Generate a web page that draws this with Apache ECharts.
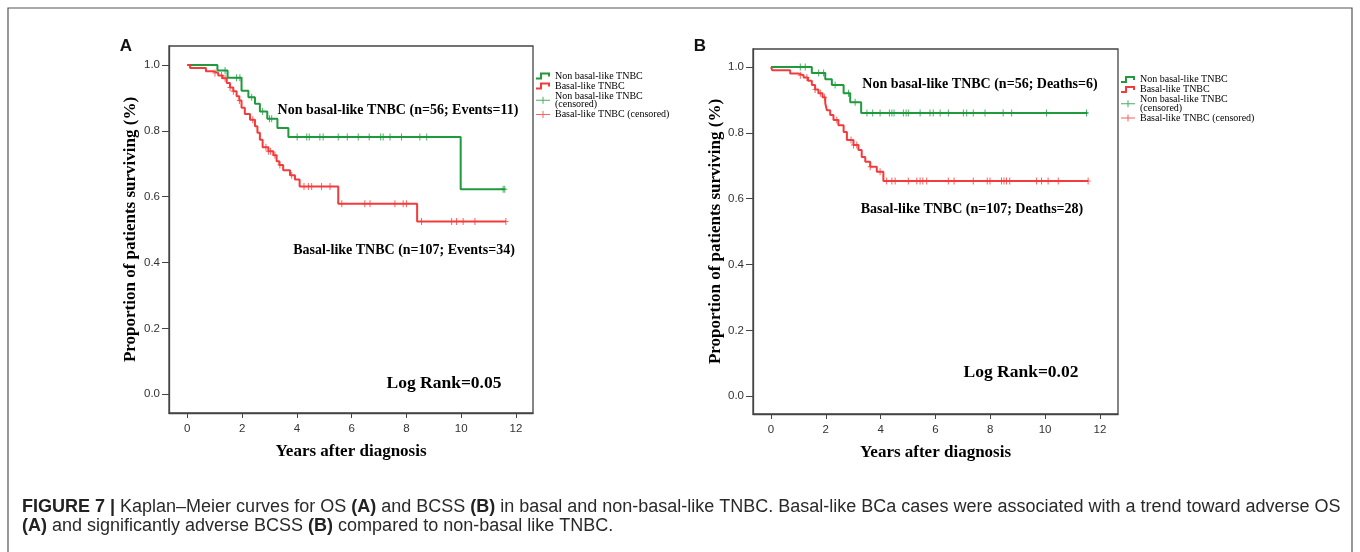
<!DOCTYPE html>
<html>
<head>
<meta charset="utf-8">
<script src="https://cdn.jsdelivr.net/npm/echarts@6/dist/echarts.min.js"></script>
<style>
html, body { margin: 0; padding: 0; background: #fff; }
#main { width: 1360px; height: 552px; }
</style>
</head>
<body>
<div id="main"></div>
<script>
// ---- panel A : overall survival ----
var osNonTime = [0, 1.10, 1.47, 1.98, 2.23, 2.47, 2.65, 2.92, 3.29, 3.69, 9.98, 11.6];
var osNonSurv = [1, 0.983, 0.961, 0.922, 0.902, 0.882, 0.859, 0.837, 0.809, 0.781, 0.623, 0.623];
var osNonCens = [1.38, 1.80, 1.92, 2.35, 2.75, 3.00, 3.08, 4.01, 4.36, 4.45, 4.84, 4.96, 5.51, 5.84, 6.24, 6.64, 7.06, 7.15, 7.40, 7.82, 8.49, 8.74, 11.53, 11.59];

var osBasTime = [0, 0.10, 0.68, 0.95, 1.13, 1.29, 1.44, 1.56, 1.68, 1.80, 1.90, 1.98, 2.10, 2.29, 2.47, 2.56, 2.65, 2.75, 2.96, 3.14, 3.26, 3.36, 3.50, 3.75, 3.93, 4.10, 5.51, 8.39, 11.63];
var osBasSurv = [1, 0.991, 0.981, 0.976, 0.968, 0.960, 0.945, 0.932, 0.920, 0.905, 0.892, 0.870, 0.851, 0.834, 0.814, 0.794, 0.773, 0.750, 0.738, 0.726, 0.708, 0.696, 0.680, 0.665, 0.652, 0.631, 0.579, 0.525, 0.525];
var osBasCens = [1.01, 1.25, 1.38, 1.56, 1.68, 1.90, 2.39, 2.87, 2.96, 3.04, 3.20, 3.38, 3.81, 4.26, 4.42, 4.54, 4.90, 5.21, 5.64, 6.48, 6.67, 7.58, 7.88, 8.00, 8.55, 9.65, 9.83, 10.07, 10.50, 11.63];

// ---- panel B : breast cancer specific survival ----
var bcNonTime = [0, 1.49, 1.98, 2.22, 2.65, 2.89, 3.29, 11.55];
var bcNonSurv = [1, 0.982, 0.963, 0.945, 0.920, 0.893, 0.860, 0.860];
var bcNonCens = [1.07, 1.25, 1.74, 1.92, 2.34, 2.83, 3.07, 3.50, 3.71, 3.98, 4.32, 4.41, 4.49, 4.83, 4.93, 5.01, 5.44, 5.80, 5.92, 6.17, 6.47, 7.02, 7.14, 7.38, 7.81, 8.47, 8.78, 10.05, 11.51];

var bcBasTime = [0, 0.05, 0.70, 1.01, 1.19, 1.35, 1.49, 1.61, 1.73, 1.88, 1.98, 2.04, 2.16, 2.28, 2.46, 2.65, 2.77, 3.01, 3.19, 3.31, 3.44, 3.62, 3.86, 4.10, 11.57];
var bcBasSurv = [1, 0.990, 0.980, 0.975, 0.968, 0.958, 0.945, 0.932, 0.920, 0.908, 0.890, 0.869, 0.854, 0.839, 0.823, 0.803, 0.778, 0.763, 0.748, 0.727, 0.712, 0.697, 0.682, 0.654, 0.654];
var bcBasCens = [1.07, 1.31, 1.61, 1.80, 1.95, 2.40, 2.92, 3.01, 3.13, 3.62, 3.98, 4.22, 4.41, 4.53, 5.01, 5.32, 5.44, 5.54, 5.68, 6.47, 6.68, 7.38, 7.89, 7.99, 8.41, 8.50, 8.59, 8.71, 9.69, 9.87, 10.11, 10.48, 11.57];

var xTicks = [0, 2, 4, 6, 8, 10, 12];
var yTicks = [0, 0.2, 0.4, 0.6, 0.8, 1.0];

var nameNon = 'Non basal-like TNBC';
var nameBas = 'Basal-like TNBC';
var nameNonC = 'Non basal-like TNBC (censored)';
var nameBasC = 'Basal-like TNBC (censored)';

var green = '#1f9a3c';
var red = '#f43b3b';
var serif = '"Liberation Serif", "DejaVu Serif", serif';
var sans = '"Liberation Sans", Arial, sans-serif';

var plusPath = 'path://M2,0H3V7H2ZM0,3H5V4H0Z';
var stepIcon = 'path://M0,5H4V0H14V4H12V2H6V7H0Z';
var censIcon = 'path://M0,3H6.5V0H7.5V3H14V4H7.5V7H6.5V4H0Z';

function zip(ts, ss) {
    return ts.map(function (t, i) { return [t, ss[i]]; });
}
// value of the step curve at time t
function survAt(ts, ss, t) {
    var v = ss[0];
    for (var i = 0; i < ts.length; i++) {
        if (ts[i] <= t) v = ss[i];
    }
    return v;
}
function censData(ts, ss, cs) {
    return cs.map(function (t) { return [t, survAt(ts, ss, t)]; });
}

function xAxisOf(idx, min, max) {
    return {
        type: 'value', gridIndex: idx, min: min, max: max,
        name: 'Years after diagnosis', nameLocation: 'middle', nameGap: 30,
        nameTextStyle: { fontFamily: serif, fontWeight: 'bold', fontSize: 17, color: '#000' },
        axisLine: { show: true, onZero: false, lineStyle: { color: '#444', width: 1.3 } },
        axisTick: { show: true, length: 5, customValues: xTicks, lineStyle: { color: '#444' } },
        axisLabel: { customValues: xTicks, margin: 10, fontFamily: sans, fontSize: 11.5, color: '#333' },
        splitLine: { show: false }
    };
}
function yAxisOf(idx, min, max, gap) {
    return {
        type: 'value', gridIndex: idx, min: min, max: max,
        name: 'Proportion of patients surviving (%)', nameLocation: 'middle', nameGap: gap,
        nameTextStyle: { fontFamily: serif, fontWeight: 'bold', fontSize: 17, color: '#000' },
        axisLine: { show: true, onZero: false, lineStyle: { color: '#444', width: 1.3 } },
        axisTick: { show: true, length: 7, customValues: yTicks, lineStyle: { color: '#444' } },
        axisLabel: {
            customValues: yTicks, margin: 9, fontFamily: sans, fontSize: 11.5, color: '#333',
            formatter: function (v) { return v.toFixed(1); }
        },
        splitLine: { show: false }
    };
}
function lineOf(name, idx, ts, ss, color) {
    return {
        name: name, type: 'line', step: 'end', xAxisIndex: idx, yAxisIndex: idx,
        data: zip(ts, ss), showSymbol: false, symbol: 'none',
        lineStyle: { color: color, width: 2 }, itemStyle: { color: color }, z: 3
    };
}
function censOf(name, idx, ts, ss, cs, color) {
    return {
        name: name, type: 'scatter', xAxisIndex: idx, yAxisIndex: idx,
        data: censData(ts, ss, cs), symbol: plusPath, symbolSize: [5, 7],
        itemStyle: { color: color }, z: 4
    };
}
function legendOf(left, top) {
    return {
        orient: 'vertical', left: left, top: top, padding: 0, itemGap: 0,
        itemWidth: 14, itemHeight: 7, selectedMode: false,
        textStyle: { fontFamily: serif, fontSize: 10, lineHeight: 8.4, color: '#000' },
        formatter: function (n) { return n === nameNonC ? 'Non basal-like TNBC\n(censored)' : n; },
        data: [
            { name: nameNon, icon: stepIcon, itemStyle: { color: green, borderWidth: 0 } },
            { name: nameBas, icon: stepIcon, itemStyle: { color: red, borderWidth: 0 } },
            { name: nameNonC, icon: censIcon, itemStyle: { color: green, borderWidth: 0 } },
            { name: nameBasC, icon: censIcon, itemStyle: { color: red, borderWidth: 0 } }
        ]
    };
}
function label(x, y, text, size) {
    return {
        type: 'text', x: x, y: y, z: 10,
        style: {
            text: text, font: 'bold ' + size + 'px ' + serif, fill: '#000',
            align: 'center', verticalAlign: 'middle'
        }
    };
}

var chart = echarts.init(document.getElementById('main'));
chart.setOption({
    animation: false,
    backgroundColor: '#fff',
    grid: [
        { left: 169, top: 46, width: 364, height: 367, show: true, borderColor: '#444', borderWidth: 1.3, containLabel: false },
        { left: 753, top: 49, width: 365, height: 365, show: true, borderColor: '#444', borderWidth: 1.3, containLabel: false }
    ],
    xAxis: [xAxisOf(0, -0.668, 12.62), xAxisOf(1, -0.656, 12.66)],
    yAxis: [yAxisOf(0, -0.0568, 1.0577, 30), yAxisOf(1, -0.0537, 1.0547, 28)],
    legend: [legendOf(536, 71), legendOf(1121, 74.5)],
    series: [
        lineOf(nameNon, 0, osNonTime, osNonSurv, green),
        lineOf(nameBas, 0, osBasTime, osBasSurv, red),
        censOf(nameNonC, 0, osNonTime, osNonSurv, osNonCens, green),
        censOf(nameBasC, 0, osBasTime, osBasSurv, osBasCens, red),
        lineOf(nameNon, 1, bcNonTime, bcNonSurv, green),
        lineOf(nameBas, 1, bcBasTime, bcBasSurv, red),
        censOf(nameNonC, 1, bcNonTime, bcNonSurv, bcNonCens, green),
        censOf(nameBasC, 1, bcBasTime, bcBasSurv, bcBasCens, red)
    ],
    graphic: [
        // figure frame
        { type: 'rect', shape: { x: 8, y: 8, width: 1344, height: 560 }, style: { fill: 'none', stroke: '#555', lineWidth: 1.2 }, z: 0 },
        { type: 'text', x: 126, y: 46, style: { text: 'A', font: 'bold 17px ' + sans, fill: '#111', align: 'center', verticalAlign: 'middle' } },
        { type: 'text', x: 700, y: 46, style: { text: 'B', font: 'bold 17px ' + sans, fill: '#111', align: 'center', verticalAlign: 'middle' } },
        label(398, 110, 'Non basal-like TNBC (n=56; Events=11)', 14),
        label(404, 250, 'Basal-like TNBC (n=107; Events=34)', 14),
        label(444, 383, 'Log Rank=0.05', 17.5),
        label(980, 84, 'Non basal-like TNBC (n=56; Deaths=6)', 14),
        label(972, 209, 'Basal-like TNBC (n=107; Deaths=28)', 14),
        label(1021, 372, 'Log Rank=0.02', 17.5),
        {
            type: 'text', x: 22, y: 507,
            style: {
                text: '{b|FIGURE 7 |} Kaplan–Meier curves for OS {b|(A)} and BCSS {b|(B)} in basal and non-basal-like TNBC. Basal-like BCa cases were associated with a trend toward adverse OS',
                font: '18px ' + sans, fill: '#2a2a2a', verticalAlign: 'middle',
                rich: { b: { font: 'bold 18px ' + sans, fill: '#222' } }
            }
        },
        {
            type: 'text', x: 22, y: 526,
            style: {
                text: '{b|(A)} and significantly adverse BCSS {b|(B)} compared to non-basal like TNBC.',
                font: '18px ' + sans, fill: '#2a2a2a', verticalAlign: 'middle',
                rich: { b: { font: 'bold 18px ' + sans, fill: '#222' } }
            }
        }
    ]
});
</script>
</body>
</html>
